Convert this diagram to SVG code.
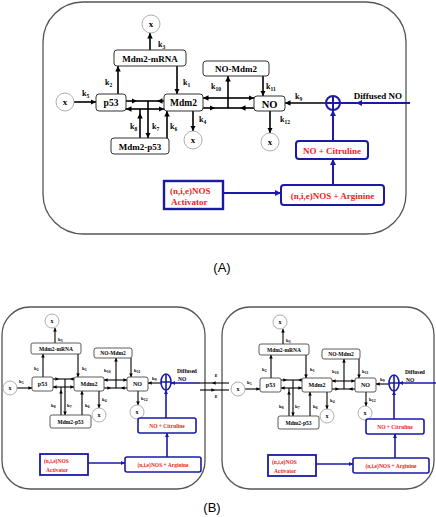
<svg xmlns="http://www.w3.org/2000/svg" width="436" height="517" viewBox="0 0 436 517">
<style>
.bx{fill:#fff;stroke:#333;stroke-width:1}
.bxs{fill:#fff;stroke:#333;stroke-width:0.8}
.bb{fill:#fff;stroke:#1a1aa6;stroke-width:2}
.bbs{fill:#fff;stroke:#1a1aa6;stroke-width:1.6}
.cx{fill:#fff;stroke:#999;stroke-width:0.8}
.t{font-family:"Liberation Serif","Times New Roman",serif;font-weight:bold;fill:#000}
.r{fill:#ee1c24}
.m{text-anchor:middle}
.ln{fill:none;stroke:#000;stroke-width:1.6}
.lb{fill:none;stroke:#1a1aa6;stroke-width:2}
.sl{fill:none;stroke:#000;stroke-width:1.1}
.slb{fill:none;stroke:#1a1aa6;stroke-width:1.6}
.panel{fill:none;stroke:#555;stroke-width:1.3}
.cap{font-family:"Liberation Sans",Arial,sans-serif;font-size:13px;fill:#000;text-anchor:middle}
.ka{font-size:8px}
.kb{font-size:5px}
</style>
<defs>
<marker id="a" viewBox="0 0 10 10" refX="10" refY="5" markerWidth="5.5" markerHeight="5.5" markerUnits="userSpaceOnUse" orient="auto"><path d="M0,0L10,5L0,10z" fill="#000"/></marker>
<marker id="ab" viewBox="0 0 10 10" refX="10" refY="5" markerWidth="6" markerHeight="6" markerUnits="userSpaceOnUse" orient="auto"><path d="M0,0L10,5L0,10z" fill="#1a1aa6"/></marker>
<marker id="as" viewBox="0 0 10 10" refX="10" refY="5" markerWidth="3.6" markerHeight="3.6" markerUnits="userSpaceOnUse" orient="auto"><path d="M0,0L10,5L0,10z" fill="#000"/></marker>
<marker id="asb" viewBox="0 0 10 10" refX="10" refY="5" markerWidth="4" markerHeight="4" markerUnits="userSpaceOnUse" orient="auto"><path d="M0,0L10,5L0,10z" fill="#1a1aa6"/></marker>
</defs>

<!-- ================= Panel A ================= -->
<rect id="panelA" class="panel" x="43" y="2" width="363" height="232" rx="40"/>

<g id="connectorsA">
<g class="ln">
<path d="M74,102H96" marker-end="url(#a)"/>
<path d="M118,94V66" marker-end="url(#a)"/>
<path d="M177,66V94" marker-end="url(#a)"/>
<path d="M150,50V33" marker-end="url(#a)"/>
<path d="M126,101H137H148" marker-mid="url(#a)"/>
<path d="M164,101H157H148" marker-mid="url(#a)"/>
<path d="M148,101V138" marker-end="url(#a)"/>
<path d="M140,138V113V109" marker-mid="url(#a)"/>
<path d="M140,109H126" marker-end="url(#a)"/>
<path d="M140,109H164" marker-end="url(#a)"/>
<path d="M167,138V111" marker-end="url(#a)"/>
<path d="M193,111V131" marker-end="url(#a)"/>
<path d="M228,98H203" marker-end="url(#a)"/>
<path d="M228,98H254" marker-end="url(#a)"/>
<path d="M203,108H215H228" marker-mid="url(#a)"/>
<path d="M254,108H240H228" marker-mid="url(#a)"/>
<path d="M228,108V76" marker-end="url(#a)"/>
<path d="M263,76V96" marker-end="url(#a)"/>
<path d="M326,103H285" marker-end="url(#a)"/>
<path d="M270,111V133" marker-end="url(#a)"/>
</g>
<g class="lb">
<path d="M410,103H356H340" marker-mid="url(#ab)"/>
<path d="M333,141V110" marker-end="url(#ab)"/>
<path d="M333,185V159" marker-end="url(#ab)"/>
<path d="M223,193H281" marker-end="url(#ab)"/>
</g>
<g class="t ka">
<text x="158" y="47">k<tspan font-size="5.5" dy="1.5">3</tspan></text>
<text x="105" y="85">k<tspan font-size="5.5" dy="1.5">2</tspan></text>
<text x="183" y="85">k<tspan font-size="5.5" dy="1.5">1</tspan></text>
<text x="82" y="96">k<tspan font-size="5.5" dy="1.5">5</tspan></text>
<text x="130" y="129">k<tspan font-size="5.5" dy="1.5">8</tspan></text>
<text x="152" y="129">k<tspan font-size="5.5" dy="1.5">7</tspan></text>
<text x="170" y="129">k<tspan font-size="5.5" dy="1.5">6</tspan></text>
<text x="199" y="122">k<tspan font-size="5.5" dy="1.5">4</tspan></text>
<text x="211" y="89">k<tspan font-size="5.5" dy="1.5">10</tspan></text>
<text x="266" y="89">k<tspan font-size="5.5" dy="1.5">11</tspan></text>
<text x="295" y="99">k<tspan font-size="5.5" dy="1.5">9</tspan></text>
<text x="280" y="122">k<tspan font-size="5.5" dy="1.5">12</tspan></text>
</g>
</g>

<g id="a-xTop"><circle class="cx" cx="151" cy="24" r="9"/><text class="t m" x="151" y="27" font-size="9">x</text></g>
<g id="a-xLeft"><circle class="cx" cx="65" cy="102" r="9"/><text class="t m" x="65" y="105" font-size="9">x</text></g>
<g id="a-xK4"><circle class="cx" cx="193" cy="140" r="9"/><text class="t m" x="193" y="143" font-size="9">x</text></g>
<g id="a-xK12"><circle class="cx" cx="270" cy="142" r="9"/><text class="t m" x="270" y="145" font-size="9">x</text></g>
<g id="a-mdm2mrna"><rect class="bx" x="114" y="50" width="72" height="16" rx="3"/><text class="t m" x="150" y="61.5" font-size="9">Mdm2-mRNA</text></g>
<g id="a-p53"><rect class="bx" x="96" y="94" width="30" height="17" rx="3"/><text class="t m" x="111" y="106" font-size="9.5">p53</text></g>
<g id="a-mdm2"><rect class="bx" x="164" y="94" width="39" height="17" rx="3"/><text class="t m" x="183.5" y="106" font-size="9.5">Mdm2</text></g>
<g id="a-nomdm2"><rect class="bx" x="203" y="61" width="66" height="15" rx="3"/><text class="t m" x="236" y="72" font-size="9">NO-Mdm2</text></g>
<g id="a-no"><rect class="bx" x="254" y="96" width="31" height="15" rx="3"/><text class="t m" x="269.5" y="107.5" font-size="10.5">NO</text></g>
<g id="a-mdm2p53"><rect class="bx" x="111" y="138" width="58" height="16" rx="3"/><text class="t m" x="140" y="149.5" font-size="9">Mdm2-p53</text></g>
<g id="a-plus"><circle cx="333" cy="103" r="7" fill="#fff" stroke="#1a1aa6" stroke-width="2"/><path d="M333,96V110M326,103H340" stroke="#1a1aa6" stroke-width="2"/></g>
<g id="a-diffused"><text class="t m" x="378" y="99" font-size="9">Diffused NO</text></g>
<g id="a-citruline"><rect class="bb" x="296" y="141" width="72" height="18" rx="3"/><text class="t m r" x="332" y="153.5" font-size="9">NO + Citruline</text></g>
<g id="a-arginine"><rect class="bb" x="281" y="185" width="103" height="20" rx="3"/><text class="t m r" x="332.5" y="198.5" font-size="9">(n,i,e)NOS + Arginine</text></g>
<g id="a-activator"><rect x="164" y="181" width="59" height="28" fill="#fff" stroke="#1a1aa6" stroke-width="2.4"/><text class="t r" x="170" y="194" font-size="9">(n,i,e)NOS</text><text class="t r" x="171" y="205" font-size="9">Activator</text></g>

<text id="capA" class="cap" x="222" y="272">(A)</text>

<!-- ================= Panel B ================= -->
<rect id="panelB1" class="panel" x="2" y="307" width="203" height="182" rx="28"/>
<rect id="panelB2" class="panel" x="222" y="307" width="212" height="182" rx="28"/>

<g id="connectorsBetween" class="sl">
<path d="M229,383H212H200" marker-mid="url(#as)"/>
<path d="M200,390H215H229" marker-mid="url(#as)"/>
<text class="t m" x="216" y="377" font-size="6" stroke="none">ε</text>
<text class="t m" x="216" y="398" font-size="6" stroke="none">ε</text>
</g>

<!-- B left cell -->
<g id="cellB1">
<g id="connectorsB1">
<g class="sl">
<path d="M17,388H32" marker-end="url(#as)"/>
<path d="M43,377V354" marker-end="url(#as)"/>
<path d="M78,354V377" marker-end="url(#as)"/>
<path d="M55,343V328" marker-end="url(#as)"/>
<path d="M53,379H59H65" marker-mid="url(#as)"/>
<path d="M74,379H70H65" marker-mid="url(#as)"/>
<path d="M65,379V415" marker-end="url(#as)"/>
<path d="M61,415V390V387" marker-mid="url(#as)"/>
<path d="M61,387H53" marker-end="url(#as)"/>
<path d="M61,387H74" marker-end="url(#as)"/>
<path d="M82,415V391" marker-end="url(#as)"/>
<path d="M99,391V408" marker-end="url(#as)"/>
<path d="M116,380H104" marker-end="url(#as)"/>
<path d="M116,380H127" marker-end="url(#as)"/>
<path d="M104,388H111H116" marker-mid="url(#as)"/>
<path d="M127,388H121H116" marker-mid="url(#as)"/>
<path d="M116,388V358" marker-end="url(#as)"/>
<path d="M131,358V377" marker-end="url(#as)"/>
<path d="M161,383H148" marker-end="url(#as)"/>
<path d="M138,391V405" marker-end="url(#as)"/>
</g>
<g class="slb">
<path d="M200,383H171" marker-end="url(#asb)"/>
<path d="M166,418V390" marker-end="url(#asb)"/>
<path d="M167,457V433" marker-end="url(#asb)"/>
<path d="M88,463H125" marker-end="url(#asb)"/>
</g>
<g class="t kb">
<text x="58" y="341">k<tspan font-size="3.8" dy="1">3</tspan></text>
<text x="34" y="370">k<tspan font-size="3.8" dy="1">2</tspan></text>
<text x="82" y="370">k<tspan font-size="3.8" dy="1">1</tspan></text>
<text x="19" y="383">k<tspan font-size="3.8" dy="1">5</tspan></text>
<text x="51" y="407">k<tspan font-size="3.8" dy="1">8</tspan></text>
<text x="67" y="407">k<tspan font-size="3.8" dy="1">7</tspan></text>
<text x="85" y="407">k<tspan font-size="3.8" dy="1">6</tspan></text>
<text x="102" y="401">k<tspan font-size="3.8" dy="1">4</tspan></text>
<text x="104" y="372">k<tspan font-size="3.8" dy="1">10</tspan></text>
<text x="134" y="372">k<tspan font-size="3.8" dy="1">11</tspan></text>
<text x="152" y="380">k<tspan font-size="3.8" dy="1">9</tspan></text>
<text x="141" y="400">k<tspan font-size="3.8" dy="1">12</tspan></text>
</g>
</g>
<g id="b1-xTop"><circle class="cx" cx="52" cy="321" r="7"/><text class="t m" x="52" y="323" font-size="6">x</text></g>
<g id="b1-xLeft"><circle class="cx" cx="10" cy="388" r="7"/><text class="t m" x="10" y="390" font-size="6">x</text></g>
<g id="b1-xK4"><circle class="cx" cx="99" cy="415" r="7"/><text class="t m" x="99" y="417" font-size="6">x</text></g>
<g id="b1-xK12"><circle class="cx" cx="137" cy="412" r="7"/><text class="t m" x="137" y="414" font-size="6">x</text></g>
<g id="b1-mdm2mrna"><rect class="bxs" x="31" y="343" width="50" height="11" rx="2"/><text class="t m" x="56" y="350.5" font-size="5.5">Mdm2-mRNA</text></g>
<g id="b1-p53"><rect class="bxs" x="32" y="377" width="21" height="14" rx="2"/><text class="t m" x="42.5" y="386" font-size="6">p53</text></g>
<g id="b1-mdm2"><rect class="bxs" x="74" y="377" width="30" height="14" rx="2"/><text class="t m" x="89" y="386" font-size="6">Mdm2</text></g>
<g id="b1-nomdm2"><rect class="bxs" x="94" y="348" width="38" height="10" rx="2"/><text class="t m" x="113" y="355" font-size="5.5">NO-Mdm2</text></g>
<g id="b1-no"><rect class="bxs" x="127" y="377" width="21" height="14" rx="2"/><text class="t m" x="137.5" y="386" font-size="6">NO</text></g>
<g id="b1-mdm2p53"><rect class="bxs" x="50" y="415" width="41" height="13" rx="2"/><text class="t m" x="70.5" y="423.5" font-size="5.5">Mdm2-p53</text></g>
<g id="b1-plus"><ellipse cx="166" cy="382" rx="5" ry="8" fill="#fff" stroke="#1a1aa6" stroke-width="1.6"/><path d="M166,374V390M161,382H171" stroke="#1a1aa6" stroke-width="1.6"/></g>
<g id="b1-diffused"><text class="t m" x="187" y="373" font-size="5.5">Diffused</text><text class="t" x="178" y="381" font-size="5.5">NO</text></g>
<g id="b1-citruline"><rect class="bbs" x="138" y="418" width="58" height="15" rx="2"/><text class="t m r" x="167" y="427.5" font-size="5.5">NO + Citruline</text></g>
<g id="b1-arginine"><rect class="bbs" x="125" y="457" width="76" height="15" rx="2"/><text class="t m r" x="163" y="466.5" font-size="5.5">(n,i,e)NOS + Arginine</text></g>
<g id="b1-activator"><rect x="40" y="454" width="48" height="21" fill="#fff" stroke="#1a1aa6" stroke-width="1.8"/><text class="t r" x="44" y="463" font-size="5.5">(n,i,e)NOS</text><text class="t r" x="46" y="471.5" font-size="5.5">Activator</text></g>
</g>

<!-- B right cell -->
<g id="cellB2" transform="translate(228,1)">
<g id="connectorsB2">
<g class="sl">
<path d="M17,388H32" marker-end="url(#as)"/>
<path d="M43,377V354" marker-end="url(#as)"/>
<path d="M78,354V377" marker-end="url(#as)"/>
<path d="M55,343V328" marker-end="url(#as)"/>
<path d="M53,379H59H65" marker-mid="url(#as)"/>
<path d="M74,379H70H65" marker-mid="url(#as)"/>
<path d="M65,379V415" marker-end="url(#as)"/>
<path d="M61,415V390V387" marker-mid="url(#as)"/>
<path d="M61,387H53" marker-end="url(#as)"/>
<path d="M61,387H74" marker-end="url(#as)"/>
<path d="M82,415V391" marker-end="url(#as)"/>
<path d="M99,391V408" marker-end="url(#as)"/>
<path d="M116,380H104" marker-end="url(#as)"/>
<path d="M116,380H127" marker-end="url(#as)"/>
<path d="M104,388H111H116" marker-mid="url(#as)"/>
<path d="M127,388H121H116" marker-mid="url(#as)"/>
<path d="M116,388V358" marker-end="url(#as)"/>
<path d="M131,358V377" marker-end="url(#as)"/>
<path d="M161,383H148" marker-end="url(#as)"/>
<path d="M138,391V405" marker-end="url(#as)"/>
</g>
<g class="slb">
<path d="M210,382H171" marker-end="url(#asb)"/>
<path d="M166,418V390" marker-end="url(#asb)"/>
<path d="M167,457V433" marker-end="url(#asb)"/>
<path d="M88,463H125" marker-end="url(#asb)"/>
</g>
<g class="t kb">
<text x="58" y="341">k<tspan font-size="3.8" dy="1">3</tspan></text>
<text x="34" y="370">k<tspan font-size="3.8" dy="1">2</tspan></text>
<text x="82" y="370">k<tspan font-size="3.8" dy="1">1</tspan></text>
<text x="19" y="383">k<tspan font-size="3.8" dy="1">5</tspan></text>
<text x="51" y="407">k<tspan font-size="3.8" dy="1">8</tspan></text>
<text x="67" y="407">k<tspan font-size="3.8" dy="1">7</tspan></text>
<text x="85" y="407">k<tspan font-size="3.8" dy="1">6</tspan></text>
<text x="102" y="401">k<tspan font-size="3.8" dy="1">4</tspan></text>
<text x="104" y="372">k<tspan font-size="3.8" dy="1">10</tspan></text>
<text x="134" y="372">k<tspan font-size="3.8" dy="1">11</tspan></text>
<text x="152" y="380">k<tspan font-size="3.8" dy="1">9</tspan></text>
<text x="141" y="400">k<tspan font-size="3.8" dy="1">12</tspan></text>
</g>
</g>
<g id="b2-xTop"><circle class="cx" cx="52" cy="321" r="7"/><text class="t m" x="52" y="323" font-size="6">x</text></g>
<g id="b2-xLeft"><circle class="cx" cx="10" cy="388" r="7"/><text class="t m" x="10" y="390" font-size="6">x</text></g>
<g id="b2-xK4"><circle class="cx" cx="99" cy="415" r="7"/><text class="t m" x="99" y="417" font-size="6">x</text></g>
<g id="b2-xK12"><circle class="cx" cx="137" cy="412" r="7"/><text class="t m" x="137" y="414" font-size="6">x</text></g>
<g id="b2-mdm2mrna"><rect class="bxs" x="31" y="343" width="50" height="11" rx="2"/><text class="t m" x="56" y="350.5" font-size="5.5">Mdm2-mRNA</text></g>
<g id="b2-p53"><rect class="bxs" x="32" y="377" width="21" height="14" rx="2"/><text class="t m" x="42.5" y="386" font-size="6">p53</text></g>
<g id="b2-mdm2"><rect class="bxs" x="74" y="377" width="30" height="14" rx="2"/><text class="t m" x="89" y="386" font-size="6">Mdm2</text></g>
<g id="b2-nomdm2"><rect class="bxs" x="94" y="348" width="38" height="10" rx="2"/><text class="t m" x="113" y="355" font-size="5.5">NO-Mdm2</text></g>
<g id="b2-no"><rect class="bxs" x="127" y="377" width="21" height="14" rx="2"/><text class="t m" x="137.5" y="386" font-size="6">NO</text></g>
<g id="b2-mdm2p53"><rect class="bxs" x="50" y="415" width="41" height="13" rx="2"/><text class="t m" x="70.5" y="423.5" font-size="5.5">Mdm2-p53</text></g>
<g id="b2-plus"><ellipse cx="166" cy="382" rx="5" ry="8" fill="#fff" stroke="#1a1aa6" stroke-width="1.6"/><path d="M166,374V390M161,382H171" stroke="#1a1aa6" stroke-width="1.6"/></g>
<g id="b2-diffused"><text class="t m" x="187" y="373" font-size="5.5">Diffused</text><text class="t" x="178" y="381" font-size="5.5">NO</text></g>
<g id="b2-citruline"><rect class="bbs" x="138" y="418" width="58" height="15" rx="2"/><text class="t m r" x="167" y="427.5" font-size="5.5">NO + Citruline</text></g>
<g id="b2-arginine"><rect class="bbs" x="125" y="457" width="76" height="15" rx="2"/><text class="t m r" x="163" y="466.5" font-size="5.5">(n,i,e)NOS + Arginine</text></g>
<g id="b2-activator"><rect x="40" y="454" width="48" height="21" fill="#fff" stroke="#1a1aa6" stroke-width="1.8"/><text class="t r" x="44" y="463" font-size="5.5">(n,i,e)NOS</text><text class="t r" x="46" y="471.5" font-size="5.5">Activator</text></g>
</g>

<text id="capB" class="cap" x="212" y="512">(B)</text>
</svg>
